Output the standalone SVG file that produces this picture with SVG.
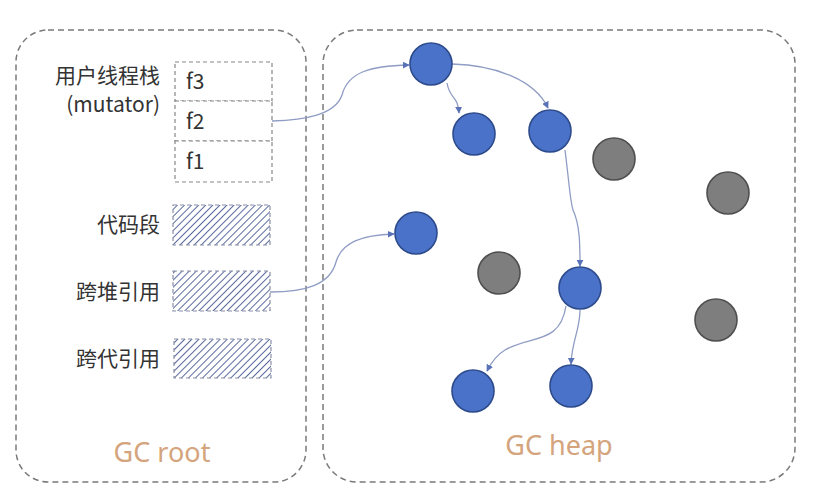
<svg xmlns="http://www.w3.org/2000/svg" width="814" height="502" viewBox="0 0 814 502">
<defs>
<style>
.region{fill:none;stroke:#7a7a7a;stroke-width:1.5;stroke-dasharray:6 4}
.slot{fill:#fff;stroke:#888;stroke-width:1.2;stroke-dasharray:4 3}
.hatch{fill:url(#hatch);stroke:#8a90a8;stroke-width:1.2;stroke-dasharray:4 3}
.lbl{font-family:"Noto Sans CJK SC","Noto Sans",sans-serif;font-size:21px;fill:#333}
.big{font-family:"Noto Sans","Noto Sans CJK SC",sans-serif;font-size:27px;fill:#d4a47c}
.live{fill:#4a72c8;stroke:#2d4b8c;stroke-width:1.6}
.dead{fill:#7e7e7e;stroke:#4f4f4f;stroke-width:1.6}
.edge{fill:none;stroke:#8f9cc4;stroke-width:1.3;marker-end:url(#arr)}
</style>
<pattern id="hatch" width="5" height="5" patternUnits="userSpaceOnUse" patternTransform="rotate(45)">
<rect width="5" height="5" fill="#fff"/>
<line x1="0" y1="0" x2="0" y2="5" stroke="#5a6b9e" stroke-width="2"/>
</pattern>
<marker id="arr" viewBox="0 0 10 10" refX="9" refY="5" markerWidth="7" markerHeight="7" orient="auto" markerUnits="userSpaceOnUse">
<path d="M0,0 L10,5 L0,10 z" fill="#5a72b8"/>
</marker>
</defs>
<rect width="814" height="502" fill="#fff"/>
<g id="gc-root">
<rect class="region" x="16" y="30" width="290" height="452" rx="32"/>
<text class="big" x="162" y="462" text-anchor="middle">GC root</text>
</g>
<g id="gc-heap">
<rect class="region" x="323" y="30" width="472" height="452" rx="34"/>
<text class="big" x="559" y="455" text-anchor="middle">GC heap</text>
</g>
<g id="stack">
<text class="lbl" x="160" y="83" text-anchor="end">用户线程栈</text>
<text class="lbl" x="160" y="112" text-anchor="end">(mutator)</text>
<rect class="slot" x="175" y="62" width="97" height="39"/>
<text class="lbl" x="186" y="89">f3</text>
<rect class="slot" x="175" y="101" width="97" height="40"/>
<text class="lbl" x="186" y="129">f2</text>
<rect class="slot" x="175" y="141" width="97" height="41"/>
<text class="lbl" x="186" y="169">f1</text>
</g>
<g id="code-seg">
<text class="lbl" x="160" y="232" text-anchor="end">代码段</text>
<rect class="hatch" x="173" y="205" width="97" height="40"/>
</g>
<g id="cross-heap">
<text class="lbl" x="160" y="299" text-anchor="end">跨堆引用</text>
<rect class="hatch" x="173" y="271" width="97" height="40"/>
</g>
<g id="cross-gen">
<text class="lbl" x="160" y="366" text-anchor="end">跨代引用</text>
<rect class="hatch" x="174" y="339" width="97" height="39"/>
</g>
<g id="connectors">
<path class="edge" d="M272,121 C305,120 335,115 342,95 C348,72 370,66 409,65"/>
<path class="edge" d="M270,292 C305,292 330,285 336,262 C342,242 362,235 394,234"/>
<path class="edge" d="M447,83 C450,100 458,95 459,113"/>
<path class="edge" d="M452,64 C495,65 535,80 548,108"/>
<path class="edge" d="M565,150 C570,190 570,200 573,210 C580,225 580,245 580,266"/>
<path class="edge" d="M566,306 C560,345 530,335 505,350 C495,356 490,365 487,371"/>
<path class="edge" d="M580,310 C580,330 572,340 571,364"/>
</g>
<g id="n1"><circle class="live" cx="431" cy="64" r="21"/></g>
<g id="n2"><circle class="live" cx="474" cy="134" r="21"/></g>
<g id="n3"><circle class="live" cx="550" cy="131" r="21"/></g>
<g id="n4"><circle class="dead" cx="614" cy="159" r="21"/></g>
<g id="n5"><circle class="dead" cx="728" cy="193" r="21"/></g>
<g id="n6"><circle class="live" cx="416" cy="233" r="21"/></g>
<g id="n7"><circle class="dead" cx="499" cy="273" r="21"/></g>
<g id="n8"><circle class="live" cx="580" cy="288" r="21"/></g>
<g id="n9"><circle class="dead" cx="716" cy="320" r="21"/></g>
<g id="n10"><circle class="live" cx="473" cy="391" r="21"/></g>
<g id="n11"><circle class="live" cx="571" cy="386" r="21"/></g>
</svg>
